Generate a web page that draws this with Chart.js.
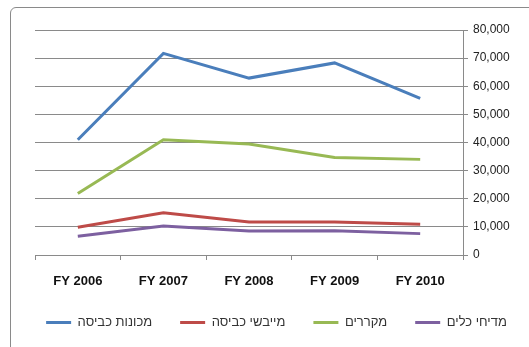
<!DOCTYPE html>
<html>
<head>
<meta charset="utf-8">
<script src="https://cdn.jsdelivr.net/npm/chart.js@4"></script>
<style>
  html, body { margin: 0; padding: 0; background: #fff; }
  #wrap { position: relative; width: 529px; height: 347px; overflow: hidden; }
  #frame { position: absolute; left: 10px; top: 7px; width: 600px; height: 400px;
           border: 1px solid #8a8a8a; border-radius: 6px; box-sizing: border-box; }
  canvas { position: absolute; left: 0; top: 0; }
</style>
</head>
<body>
<div id="wrap">
  <div id="frame"></div>
  <canvas id="c" width="529" height="347"></canvas>
</div>
<script>
// Annual unit sales by appliance type
const categories = ['FY 2006', 'FY 2007', 'FY 2008', 'FY 2009', 'FY 2010'];
const washers      = [41000, 71700, 62900, 68300, 55700];
const dryers       = [9900, 15000, 11700, 11700, 10900];
const fridges      = [21900, 41000, 39500, 34700, 34000];
const dishwashers  = [6700, 10300, 8500, 8600, 7600];
const seriesNames  = ['מכונות כביסה', 'מייבשי כביסה', 'מקררים', 'מדיחי כלים'];
const yTicks       = [0, 10000, 20000, 30000, 40000, 50000, 60000, 70000, 80000];

const colors = ['#4a7ebb', '#be4b48', '#98b954', '#7d60a0'];
const seriesData = [washers, dryers, fridges, dishwashers];

const font = '"Liberation Sans", Arial, sans-serif';

// move the legend row a little right of the canvas centre
const legendShift = {
  id: 'legendShift',
  afterLayout(chart) {
    const lg = chart.legend;
    if (lg) { lg.left += 12; lg.right += 12; }
  }
};

new Chart(document.getElementById('c'), {
  type: 'line',
  data: {
    labels: categories,
    datasets: seriesData.map((d, i) => ({
      label: seriesNames[i],
      data: d,
      borderColor: colors[i],
      backgroundColor: colors[i],
      borderWidth: 3,
      pointRadius: 0,
      tension: 0,
      fill: false
    }))
  },
  plugins: [legendShift],
  options: {
    responsive: false,
    animation: false,
    layout: { padding: { left: 0, right: 0, top: 30, bottom: 8 } },
    plugins: {
      tooltip: { enabled: false },
      legend: {
        position: 'bottom',
        labels: {
          boxWidth: 25,
          boxHeight: 3,
          padding: 28,
          color: '#333',
          font: { family: font, size: 13 },
          // thin line swatches: fill only, no stroke
          generateLabels(chart) {
            return Chart.defaults.plugins.legend.labels.generateLabels(chart)
              .map(l => Object.assign(l, { lineWidth: 0 }));
          }
        }
      }
    },
    scales: {
      x: {
        offset: true,
        grid: { offset: true, drawOnChartArea: false, color: '#8a8a8a', tickLength: 5 },
        border: { display: true, color: '#8a8a8a' },
        ticks: { color: '#111', padding: 14, maxRotation: 0, font: { family: font, size: 13, weight: 'bold' } },
        afterFit(scale) { scale.height = 33; }
      },
      // blank left margin column
      yl: {
        position: 'left',
        grid: { display: false },
        border: { display: false },
        ticks: { display: false },
        afterFit(scale) { scale.width = 35; }
      },
      y: {
        position: 'right',
        min: 0,
        max: 80000,
        afterBuildTicks(scale) { scale.ticks = yTicks.map(v => ({ value: v })); },
        grid: { color: '#8a8a8a', tickLength: 5 },
        border: { display: true, color: '#8a8a8a' },
        ticks: {
          color: '#222',
          padding: 5,
          font: { family: font, size: 12 },
          callback: v => v.toLocaleString('en-US')
        },
        afterFit(scale) { scale.width = 66; }
      }
    }
  }
});
</script>
</body>
</html>
